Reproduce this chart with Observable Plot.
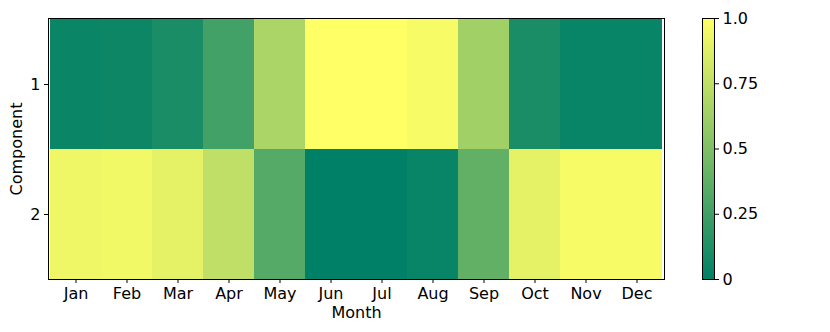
<!DOCTYPE html>
<html>
<head>
<meta charset="utf-8">
<script src="https://cdn.jsdelivr.net/npm/d3@7"></script>
<script src="https://cdn.jsdelivr.net/npm/@observablehq/plot@0.6"></script>
<style>
  html, body { margin: 0; padding: 0; background: #fff; }
  #wrap { position: relative; width: 830px; height: 332px; }
  #wrap svg { position: absolute; left: 0; top: 0; }
</style>
</head>
<body>
<div id="wrap"></div>
<script>
const months = ["Jan","Feb","Mar","Apr","May","Jun","Jul","Aug","Sep","Oct","Nov","Dec"];
const components = ["1","2"];
const comp1 = [0.04, 0.05, 0.10, 0.26, 0.67, 1.00, 1.00, 0.97, 0.63, 0.10, 0.03, 0.03];
const comp2 = [0.94, 0.95, 0.90, 0.75, 0.33, 0.00, 0.00, 0.03, 0.38, 0.90, 0.97, 0.97];
const colorTicks = [0, 0.25, 0.5, 0.75, 1];
const colorTickLabels = ["0", "0.25", "0.5", "0.75", "1.0"];

const cells = [];
months.forEach((m, i) => {
  cells.push({month: m, comp: "1", value: comp1[i]});
  cells.push({month: m, comp: "2", value: comp2[i]});
});

const summer = d3.interpolateRgb("#008066", "#ffff66");
const font = {fontFamily: "DejaVu Sans, sans-serif", fontSize: "16px", color: "#000", background: "transparent", overflow: "visible"};

const main = Plot.plot({
  width: 830, height: 332,
  marginLeft: 48, marginRight: 166, marginTop: 18, marginBottom: 53,
  style: font,
  x: {domain: months, padding: 0},
  y: {domain: components, padding: 0},
  color: {type: "linear", domain: [0, 1], interpolate: () => summer},
  marks: [
    Plot.cell(cells, {x: "month", y: "comp", fill: "value", inset: 0, shapeRendering: "crispEdges"}),
    Plot.frame({stroke: "#000", strokeWidth: 1}),
    Plot.axisX({tickSize: 4, tickPadding: 4, label: "Month", labelAnchor: "center", labelOffset: 38, fontSize: 16}),
    Plot.axisY({tickSize: 4, tickPadding: 4, label: "Component", labelAnchor: "center", labelOffset: 38, fontSize: 16})
  ]
});

const nSteps = 261;
const steps = d3.range(nSteps).map(i => i / nSteps);
const bar = Plot.plot({
  width: 830, height: 332,
  marginLeft: 702, marginRight: 116, marginTop: 18, marginBottom: 53,
  style: font,
  x: {domain: [0, 1], axis: null},
  y: {domain: [0, 1]},
  color: {type: "linear", domain: [0, 1], interpolate: () => summer},
  marks: [
    Plot.rect(steps, {x1: 0, x2: 1, y1: d => d, y2: d => Math.min(1, d + 1.5 / nSteps), fill: d => d + 0.5 / nSteps, shapeRendering: "crispEdges"}),
    Plot.frame({stroke: "#000", strokeWidth: 1}),
    Plot.axisY({anchor: "right", ticks: colorTicks, tickFormat: (d, i) => colorTickLabels[i], tickSize: 4, tickPadding: 4, label: null, fontSize: 16})
  ]
});

document.getElementById("wrap").append(main, bar);
</script>
</body>
</html>
